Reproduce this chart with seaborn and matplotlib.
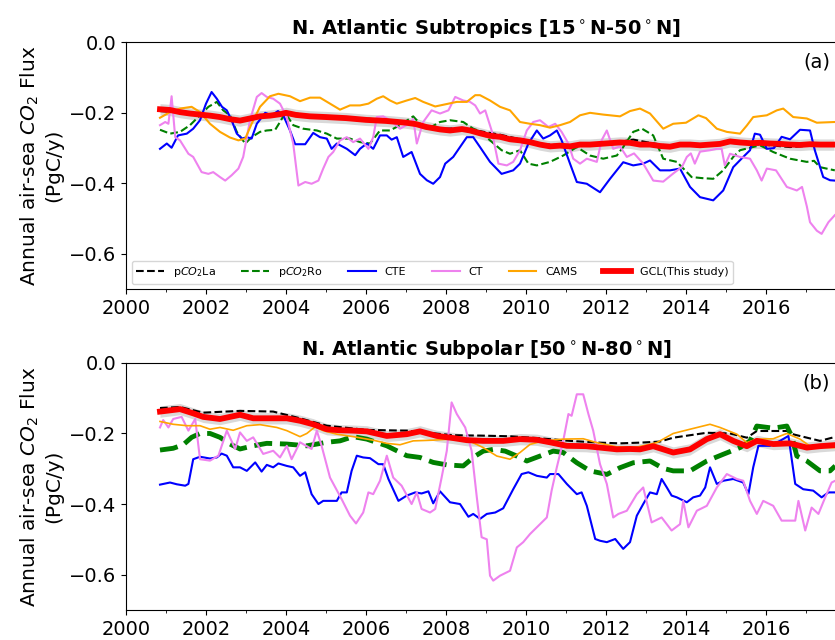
import matplotlib
matplotlib.use("Agg")
import matplotlib.pyplot as plt
from matplotlib.ticker import MultipleLocator
import seaborn as sns

# -------------------------
# Data: (decimal year, flux in PgC/y)
# -------------------------
# N. Atlantic Subtropics [15N-50N]
sub_la = [(2000.85, -0.195), (2001.5, -0.200), (2002.0, -0.206), (2002.85, -0.220), (2003.5, -0.208),
          (2004.0, -0.198), (2004.6, -0.208), (2005.5, -0.213), (2006.5, -0.220), (2007.0, -0.225),
          (2007.85, -0.245), (2008.4, -0.244), (2008.85, -0.252), (2009.35, -0.262), (2009.85, -0.275),
          (2010.35, -0.288), (2010.85, -0.292), (2011.35, -0.292), (2011.85, -0.288), (2012.35, -0.282),
          (2012.68, -0.276), (2013.1, -0.285), (2013.6, -0.294), (2014.1, -0.292), (2014.6, -0.290),
          (2015.1, -0.285), (2015.6, -0.288), (2016.1, -0.292), (2016.6, -0.297), (2017.1, -0.293),
          (2017.7, -0.288)]

sub_ro = [(2000.85, -0.248), (2001.1, -0.259), (2001.35, -0.254), (2001.6, -0.235), (2001.85, -0.207),
          (2002.06, -0.183), (2002.27, -0.169), (2002.43, -0.193), (2002.6, -0.207), (2002.77, -0.254),
          (2002.98, -0.287), (2003.14, -0.269), (2003.35, -0.254), (2003.52, -0.250), (2003.73, -0.248),
          (2003.85, -0.226), (2003.98, -0.200), (2004.18, -0.235), (2004.43, -0.245), (2004.77, -0.250),
          (2005.02, -0.259), (2005.27, -0.273), (2005.6, -0.273), (2005.85, -0.283), (2006.1, -0.287),
          (2006.35, -0.250), (2006.6, -0.250), (2006.85, -0.235), (2007.18, -0.210), (2007.35, -0.231),
          (2007.6, -0.242), (2007.85, -0.226), (2008.1, -0.221), (2008.43, -0.226), (2008.68, -0.245),
          (2008.85, -0.252), (2009.1, -0.278), (2009.39, -0.306), (2009.6, -0.316), (2009.85, -0.306),
          (2010.06, -0.344), (2010.27, -0.349), (2010.6, -0.339), (2010.93, -0.321), (2011.27, -0.297),
          (2011.6, -0.321), (2011.93, -0.330), (2012.27, -0.321), (2012.43, -0.297), (2012.68, -0.254),
          (2012.9, -0.245), (2013.18, -0.264), (2013.43, -0.330), (2013.77, -0.339), (2014.14, -0.382),
          (2014.4, -0.385), (2014.68, -0.387), (2014.93, -0.363), (2015.18, -0.325), (2015.35, -0.306),
          (2015.6, -0.299), (2015.85, -0.292), (2016.18, -0.311), (2016.6, -0.330), (2017.02, -0.339),
          (2017.2, -0.336), (2017.35, -0.354), (2017.72, -0.363)]

sub_cte = [(2000.85, -0.302), (2001.02, -0.287), (2001.14, -0.299), (2001.3, -0.264), (2001.52, -0.259),
           (2001.68, -0.245), (2001.85, -0.221), (2002.0, -0.174), (2002.14, -0.141), (2002.27, -0.160),
           (2002.4, -0.183), (2002.52, -0.193), (2002.64, -0.221), (2002.77, -0.259), (2002.9, -0.273),
           (2003.02, -0.269), (2003.14, -0.273), (2003.27, -0.231), (2003.48, -0.200), (2003.64, -0.207),
           (2003.8, -0.195), (2003.93, -0.207), (2004.1, -0.250), (2004.23, -0.289), (2004.48, -0.289),
           (2004.68, -0.257), (2004.85, -0.269), (2005.02, -0.273), (2005.14, -0.302), (2005.27, -0.287),
           (2005.52, -0.302), (2005.73, -0.320), (2005.85, -0.302), (2006.02, -0.287), (2006.18, -0.302),
           (2006.35, -0.264), (2006.52, -0.264), (2006.64, -0.276), (2006.77, -0.269), (2006.93, -0.325),
           (2007.14, -0.311), (2007.35, -0.373), (2007.52, -0.391), (2007.68, -0.401), (2007.85, -0.382),
           (2007.98, -0.344), (2008.18, -0.325), (2008.35, -0.297), (2008.52, -0.269), (2008.68, -0.269),
           (2008.85, -0.297), (2009.1, -0.339), (2009.39, -0.373), (2009.68, -0.363), (2009.85, -0.344),
           (2010.06, -0.287), (2010.27, -0.250), (2010.43, -0.273), (2010.6, -0.264), (2010.77, -0.250),
           (2010.89, -0.278), (2011.1, -0.344), (2011.27, -0.396), (2011.52, -0.401), (2011.85, -0.425),
           (2012.1, -0.387), (2012.43, -0.340), (2012.68, -0.349), (2012.93, -0.344), (2013.1, -0.335),
           (2013.35, -0.363), (2013.6, -0.363), (2013.85, -0.358), (2014.1, -0.410), (2014.35, -0.439),
           (2014.68, -0.448), (2014.93, -0.420), (2015.18, -0.354), (2015.43, -0.325), (2015.6, -0.306),
           (2015.72, -0.259), (2015.85, -0.262), (2016.02, -0.302), (2016.2, -0.300), (2016.39, -0.268),
           (2016.6, -0.275), (2016.85, -0.248), (2017.1, -0.250), (2017.22, -0.306), (2017.43, -0.382),
           (2017.6, -0.391), (2017.72, -0.392)]

sub_ct = [(2000.85, -0.235), (2000.98, -0.226), (2001.06, -0.231), (2001.14, -0.153), (2001.23, -0.269),
          (2001.35, -0.278), (2001.56, -0.316), (2001.68, -0.325), (2001.89, -0.368), (2002.06, -0.373),
          (2002.18, -0.368), (2002.35, -0.382), (2002.48, -0.392), (2002.64, -0.377), (2002.81, -0.358),
          (2002.93, -0.325), (2003.1, -0.221), (2003.27, -0.155), (2003.39, -0.144), (2003.52, -0.155),
          (2003.68, -0.160), (2003.85, -0.174), (2004.02, -0.212), (2004.18, -0.287), (2004.31, -0.406),
          (2004.48, -0.396), (2004.64, -0.401), (2004.81, -0.392), (2004.93, -0.358), (2005.06, -0.325),
          (2005.18, -0.311), (2005.35, -0.278), (2005.52, -0.269), (2005.68, -0.283), (2005.85, -0.273),
          (2006.06, -0.302), (2006.18, -0.269), (2006.27, -0.212), (2006.43, -0.210), (2006.6, -0.221),
          (2006.85, -0.245), (2007.1, -0.229), (2007.18, -0.217), (2007.27, -0.287), (2007.43, -0.226),
          (2007.64, -0.193), (2007.85, -0.202), (2008.06, -0.193), (2008.23, -0.155), (2008.43, -0.165),
          (2008.6, -0.169), (2008.73, -0.179), (2008.85, -0.202), (2008.98, -0.193), (2009.14, -0.250),
          (2009.31, -0.344), (2009.52, -0.349), (2009.68, -0.339), (2009.85, -0.306), (2010.02, -0.250),
          (2010.18, -0.226), (2010.35, -0.221), (2010.56, -0.240), (2010.73, -0.231), (2010.89, -0.254),
          (2011.06, -0.287), (2011.18, -0.330), (2011.35, -0.344), (2011.52, -0.330), (2011.77, -0.339),
          (2011.89, -0.278), (2012.02, -0.250), (2012.18, -0.302), (2012.35, -0.295), (2012.52, -0.325),
          (2012.7, -0.315), (2012.93, -0.344), (2013.18, -0.392), (2013.43, -0.395), (2013.68, -0.372),
          (2013.9, -0.353), (2014.02, -0.325), (2014.12, -0.315), (2014.22, -0.344), (2014.35, -0.310),
          (2014.6, -0.306), (2014.77, -0.302), (2014.89, -0.302), (2014.97, -0.349), (2015.1, -0.316),
          (2015.35, -0.325), (2015.6, -0.330), (2015.77, -0.363), (2015.89, -0.392), (2016.02, -0.358),
          (2016.25, -0.363), (2016.52, -0.410), (2016.77, -0.420), (2016.9, -0.410), (2017.02, -0.465),
          (2017.1, -0.510), (2017.27, -0.534), (2017.39, -0.543), (2017.56, -0.510), (2017.72, -0.490)]

sub_cams = [(2000.85, -0.214), (2001.1, -0.198), (2001.35, -0.188), (2001.64, -0.183), (2001.85, -0.198),
            (2002.1, -0.231), (2002.35, -0.254), (2002.6, -0.270), (2002.81, -0.278), (2002.98, -0.273),
            (2003.14, -0.231), (2003.35, -0.183), (2003.6, -0.153), (2003.81, -0.146), (2004.1, -0.153),
            (2004.35, -0.167), (2004.6, -0.157), (2004.85, -0.157), (2005.1, -0.174), (2005.35, -0.191),
            (2005.6, -0.179), (2005.85, -0.179), (2006.06, -0.174), (2006.27, -0.160), (2006.43, -0.153),
            (2006.6, -0.165), (2006.77, -0.174), (2007.02, -0.165), (2007.23, -0.158), (2007.43, -0.169),
            (2007.73, -0.182), (2007.98, -0.176), (2008.27, -0.169), (2008.52, -0.169), (2008.73, -0.150),
            (2008.85, -0.150), (2009.1, -0.165), (2009.35, -0.183), (2009.6, -0.193), (2009.85, -0.226),
            (2010.1, -0.231), (2010.35, -0.235), (2010.6, -0.242), (2010.85, -0.235), (2011.1, -0.226),
            (2011.35, -0.207), (2011.6, -0.200), (2011.93, -0.205), (2012.35, -0.210), (2012.6, -0.195),
            (2012.85, -0.188), (2013.1, -0.202), (2013.43, -0.245), (2013.68, -0.231), (2014.0, -0.228),
            (2014.31, -0.207), (2014.5, -0.215), (2014.77, -0.245), (2015.02, -0.254), (2015.35, -0.259),
            (2015.52, -0.236), (2015.68, -0.212), (2016.02, -0.207), (2016.27, -0.193), (2016.43, -0.188),
            (2016.68, -0.212), (2017.02, -0.216), (2017.27, -0.228), (2017.72, -0.226)]

sub_gcl = [(2000.85, -0.190), (2001.1, -0.192), (2001.35, -0.198), (2001.6, -0.202), (2001.85, -0.205),
           (2002.1, -0.208), (2002.35, -0.212), (2002.6, -0.218), (2002.85, -0.222), (2003.1, -0.216),
           (2003.35, -0.210), (2003.6, -0.208), (2003.85, -0.204), (2004.0, -0.200), (2004.25, -0.206),
           (2004.6, -0.210), (2005.0, -0.212), (2005.5, -0.215), (2006.0, -0.220), (2006.5, -0.223),
           (2007.0, -0.228), (2007.25, -0.232), (2007.5, -0.240), (2007.85, -0.247), (2008.1, -0.250),
           (2008.4, -0.246), (2008.6, -0.250), (2008.85, -0.258), (2009.1, -0.265), (2009.35, -0.268),
           (2009.6, -0.275), (2009.85, -0.278), (2010.1, -0.283), (2010.35, -0.290), (2010.6, -0.295),
           (2010.85, -0.293), (2011.1, -0.295), (2011.35, -0.290), (2011.6, -0.290), (2011.85, -0.288),
           (2012.1, -0.286), (2012.35, -0.284), (2012.6, -0.285), (2012.85, -0.290), (2013.1, -0.290),
           (2013.35, -0.294), (2013.6, -0.296), (2013.85, -0.290), (2014.1, -0.290), (2014.35, -0.292),
           (2014.6, -0.290), (2014.85, -0.288), (2015.1, -0.281), (2015.35, -0.284), (2015.6, -0.286),
           (2015.85, -0.285), (2016.1, -0.287), (2016.35, -0.288), (2016.6, -0.290), (2016.85, -0.291),
           (2017.1, -0.289), (2017.35, -0.290), (2017.7, -0.290)]

# N. Atlantic Subpolar [50N-80N]
pol_la = [(2000.85, -0.128), (2001.35, -0.125), (2001.93, -0.141), (2002.85, -0.136), (2003.68, -0.138),
          (2004.35, -0.157), (2005.02, -0.178), (2006.02, -0.190), (2007.02, -0.192), (2008.18, -0.205),
          (2008.85, -0.206), (2009.6, -0.208), (2010.27, -0.213), (2011.1, -0.221), (2011.85, -0.226),
          (2012.35, -0.228), (2012.85, -0.226), (2013.35, -0.223), (2013.68, -0.212), (2014.52, -0.198),
          (2015.1, -0.200), (2015.52, -0.212), (2015.77, -0.193), (2016.52, -0.193), (2016.7, -0.203),
          (2017.35, -0.221), (2017.72, -0.210)]

pol_ro = [(2000.85, -0.247), (2001.18, -0.242), (2001.43, -0.232), (2001.64, -0.211), (2001.85, -0.200),
          (2002.1, -0.200), (2002.35, -0.211), (2002.6, -0.230), (2002.85, -0.244), (2003.18, -0.235),
          (2003.52, -0.228), (2004.02, -0.230), (2004.52, -0.235), (2005.02, -0.225), (2005.35, -0.221),
          (2005.68, -0.209), (2006.02, -0.216), (2006.52, -0.235), (2007.02, -0.263), (2007.35, -0.268),
          (2007.68, -0.282), (2008.02, -0.289), (2008.43, -0.292), (2008.73, -0.264), (2008.93, -0.250),
          (2009.18, -0.245), (2009.48, -0.250), (2009.77, -0.264), (2010.02, -0.278), (2010.35, -0.264),
          (2010.68, -0.250), (2010.93, -0.254), (2011.27, -0.283), (2011.6, -0.306), (2012.02, -0.316),
          (2012.35, -0.297), (2012.68, -0.283), (2013.1, -0.278), (2013.43, -0.299), (2013.68, -0.306),
          (2014.1, -0.306), (2014.52, -0.278), (2014.93, -0.259), (2015.35, -0.240), (2015.6, -0.221),
          (2015.77, -0.179), (2016.18, -0.185), (2016.52, -0.179), (2016.64, -0.207), (2016.77, -0.264),
          (2017.02, -0.278), (2017.35, -0.306), (2017.6, -0.306), (2017.73, -0.292)]

pol_cte = [(2000.85, -0.345), (2001.1, -0.339), (2001.27, -0.344), (2001.48, -0.348), (2001.56, -0.343),
           (2001.68, -0.273), (2001.85, -0.266), (2002.1, -0.271), (2002.27, -0.268), (2002.39, -0.257),
           (2002.52, -0.263), (2002.68, -0.296), (2002.85, -0.296), (2003.02, -0.306), (2003.23, -0.282),
           (2003.39, -0.308), (2003.52, -0.289), (2003.68, -0.296), (2003.81, -0.285), (2004.02, -0.292),
           (2004.18, -0.296), (2004.35, -0.320), (2004.48, -0.310), (2004.64, -0.372), (2004.81, -0.400),
           (2004.93, -0.391), (2005.27, -0.391), (2005.39, -0.367), (2005.52, -0.367), (2005.64, -0.306),
           (2005.77, -0.263), (2005.93, -0.268), (2006.1, -0.270), (2006.31, -0.287), (2006.43, -0.287),
           (2006.56, -0.329), (2006.81, -0.391), (2007.02, -0.376), (2007.23, -0.367), (2007.39, -0.370),
           (2007.56, -0.364), (2007.68, -0.398), (2007.85, -0.364), (2008.1, -0.395), (2008.35, -0.400),
           (2008.56, -0.436), (2008.68, -0.428), (2008.85, -0.442), (2009.02, -0.428), (2009.23, -0.424),
           (2009.43, -0.412), (2009.68, -0.358), (2009.89, -0.315), (2010.06, -0.310), (2010.27, -0.320),
           (2010.52, -0.325), (2010.6, -0.315), (2010.81, -0.315), (2011.02, -0.343), (2011.27, -0.372),
           (2011.39, -0.367), (2011.52, -0.405), (2011.73, -0.499), (2011.85, -0.504), (2012.02, -0.508),
           (2012.23, -0.499), (2012.43, -0.527), (2012.6, -0.508), (2012.77, -0.433), (2012.93, -0.400),
           (2013.1, -0.367), (2013.27, -0.372), (2013.39, -0.329), (2013.52, -0.353), (2013.64, -0.376),
           (2013.77, -0.381), (2014.02, -0.395), (2014.18, -0.381), (2014.35, -0.376), (2014.48, -0.353),
           (2014.6, -0.296), (2014.77, -0.343), (2014.93, -0.334), (2015.18, -0.329), (2015.43, -0.339),
           (2015.56, -0.372), (2015.68, -0.296), (2015.81, -0.235), (2016.1, -0.235), (2016.35, -0.221),
           (2016.56, -0.207), (2016.73, -0.343), (2016.93, -0.358), (2017.18, -0.362), (2017.39, -0.381),
           (2017.56, -0.367), (2017.73, -0.367)]

pol_ct = [(2000.85, -0.183), (2000.93, -0.162), (2001.06, -0.183), (2001.18, -0.159), (2001.39, -0.153),
          (2001.56, -0.192), (2001.73, -0.159), (2001.85, -0.273), (2002.1, -0.277), (2002.31, -0.263),
          (2002.52, -0.192), (2002.73, -0.244), (2002.85, -0.197), (2003.02, -0.221), (2003.18, -0.211),
          (2003.43, -0.258), (2003.68, -0.249), (2003.85, -0.268), (2004.02, -0.235), (2004.14, -0.273),
          (2004.35, -0.225), (2004.64, -0.244), (2004.77, -0.192), (2004.89, -0.235), (2005.1, -0.325),
          (2005.39, -0.386), (2005.6, -0.433), (2005.75, -0.455), (2005.93, -0.424), (2006.06, -0.367),
          (2006.18, -0.372), (2006.35, -0.334), (2006.52, -0.263), (2006.68, -0.325), (2006.89, -0.348),
          (2007.14, -0.400), (2007.27, -0.367), (2007.39, -0.414), (2007.6, -0.424), (2007.73, -0.414),
          (2007.89, -0.325), (2008.02, -0.249), (2008.14, -0.112), (2008.27, -0.145), (2008.48, -0.183),
          (2008.64, -0.249), (2008.77, -0.381), (2008.89, -0.494), (2009.02, -0.500), (2009.1, -0.603),
          (2009.18, -0.617), (2009.35, -0.603), (2009.6, -0.589), (2009.77, -0.523), (2009.93, -0.508),
          (2010.1, -0.485), (2010.35, -0.457), (2010.52, -0.438), (2010.64, -0.362), (2010.77, -0.296),
          (2010.93, -0.221), (2011.06, -0.145), (2011.14, -0.150), (2011.27, -0.089), (2011.43, -0.089),
          (2011.56, -0.145), (2011.68, -0.192), (2011.85, -0.287), (2012.02, -0.343), (2012.18, -0.438),
          (2012.31, -0.428), (2012.52, -0.419), (2012.77, -0.372), (2012.93, -0.353), (2013.14, -0.452),
          (2013.39, -0.438), (2013.64, -0.475), (2013.85, -0.457), (2013.93, -0.391), (2014.06, -0.466),
          (2014.27, -0.419), (2014.52, -0.405), (2014.77, -0.353), (2015.02, -0.315), (2015.27, -0.329),
          (2015.43, -0.334), (2015.6, -0.391), (2015.77, -0.428), (2015.93, -0.391), (2016.18, -0.405),
          (2016.39, -0.447), (2016.73, -0.447), (2016.81, -0.391), (2016.98, -0.475), (2017.14, -0.410),
          (2017.31, -0.428), (2017.48, -0.381), (2017.64, -0.339), (2017.73, -0.334)]

pol_cams = [(2000.85, -0.166), (2001.18, -0.174), (2001.52, -0.178), (2001.85, -0.178), (2002.1, -0.188),
            (2002.35, -0.183), (2002.68, -0.191), (2003.02, -0.178), (2003.35, -0.175), (2003.77, -0.183),
            (2004.02, -0.192), (2004.35, -0.209), (2004.52, -0.200), (2004.73, -0.181), (2004.93, -0.192),
            (2005.27, -0.202), (2005.68, -0.209), (2006.18, -0.219), (2006.52, -0.228), (2006.85, -0.232),
            (2007.18, -0.221), (2007.68, -0.219), (2008.1, -0.216), (2008.6, -0.222), (2008.93, -0.240),
            (2009.27, -0.264), (2009.6, -0.273), (2009.85, -0.254), (2010.1, -0.231), (2010.43, -0.221),
            (2010.93, -0.216), (2011.43, -0.215), (2011.77, -0.226), (2012.27, -0.238), (2012.8, -0.238),
            (2013.27, -0.226), (2013.68, -0.200), (2014.1, -0.188), (2014.6, -0.174), (2014.85, -0.183),
            (2015.27, -0.202), (2015.52, -0.226), (2015.77, -0.216), (2016.18, -0.215), (2016.52, -0.200),
            (2016.85, -0.216), (2017.1, -0.236), (2017.52, -0.240), (2017.73, -0.240)]

pol_gcl = [(2000.85, -0.138), (2001.35, -0.131), (2001.68, -0.143), (2001.93, -0.153), (2002.35, -0.159),
           (2002.85, -0.147), (2003.18, -0.157), (2003.68, -0.157), (2004.02, -0.157), (2004.35, -0.164),
           (2004.68, -0.174), (2005.02, -0.188), (2005.35, -0.191), (2005.68, -0.192), (2006.02, -0.194),
           (2006.52, -0.207), (2007.02, -0.202), (2007.35, -0.194), (2007.77, -0.207), (2008.18, -0.213),
           (2008.52, -0.219), (2008.93, -0.221), (2009.43, -0.221), (2009.85, -0.216), (2010.27, -0.218),
           (2010.6, -0.225), (2011.02, -0.235), (2011.5, -0.236), (2011.85, -0.240), (2012.27, -0.245),
           (2012.6, -0.244), (2012.85, -0.245), (2013.18, -0.236), (2013.68, -0.254), (2014.1, -0.245),
           (2014.52, -0.216), (2014.85, -0.202), (2015.18, -0.221), (2015.52, -0.236), (2015.77, -0.221),
           (2016.18, -0.230), (2016.6, -0.228), (2017.02, -0.240), (2017.35, -0.236), (2017.72, -0.233)]

labels = ["p$CO_2$La", "p$CO_2$Ro", "CTE", "CT", "CAMS", "GCL(This study)"]
colors = ["black", "green", "blue", "violet", "orange", "red"]
year_ticks = list(range(2000, 2018, 2))
flux_ticks = [0.0, -0.2, -0.4, -0.6]


def draw(ax, y, label, color, **kw):
    xs = [p[0] for p in y]
    vs = [p[1] for p in y]
    sns.lineplot(x=xs, y=vs, ax=ax, color=color, label=label, **kw)


def panel(ax, series, title, tag, ro_width, cams_width):
    la, ro, cte, ct, cams, gcl = series
    # uncertainty band around GCL
    gx = [p[0] for p in gcl]
    gv = [p[1] for p in gcl]
    ax.fill_between(gx, [v - 0.016 for v in gv], [v + 0.016 for v in gv],
                    color="0.85", lw=0, zorder=1)
    draw(ax, la, labels[0], colors[0], linestyle="--", lw=1.5, zorder=2)
    draw(ax, ro, labels[1], colors[1], linestyle="--", lw=ro_width, zorder=2)
    draw(ax, cte, labels[2], colors[2], lw=1.5, zorder=2)
    draw(ax, ct, labels[3], colors[3], lw=1.5, zorder=2)
    draw(ax, cams, labels[4], colors[4], lw=cams_width, zorder=2)
    draw(ax, gcl, labels[5], colors[5], lw=4.2, zorder=3)

    ax.set_xlim(2000, 2018)
    ax.set_ylim(-0.7, 0.0)
    ax.set_xticks(year_ticks)
    ax.xaxis.set_minor_locator(MultipleLocator(1))
    ax.set_yticks(flux_ticks)
    ax.tick_params(labelsize=14)
    ax.set_title(title, fontsize=14, fontweight="bold")
    ax.set_ylabel("Annual air-sea $CO_2$ Flux\n(PgC/y)", fontsize=14.5)
    ax.text(0.978, 0.92, tag, transform=ax.transAxes, ha="right", va="center", fontsize=14)


fig = plt.figure(figsize=(8.35, 6.4), dpi=100)
ax1 = fig.add_axes([0.1509, 0.548, 0.8623, 0.386])
ax2 = fig.add_axes([0.1509, 0.047, 0.8623, 0.386])

panel(ax1, [sub_la, sub_ro, sub_cte, sub_ct, sub_cams, sub_gcl],
      r"N. Atlantic Subtropics [15$^\circ$N-50$^\circ$N]", "(a)", 1.5, 1.5)
panel(ax2, [pol_la, pol_ro, pol_cte, pol_ct, pol_cams, pol_gcl],
      r"N. Atlantic Subpolar [50$^\circ$N-80$^\circ$N]", "(b)", 3.5, 1.2)

ax1.legend(loc="lower left", ncol=6, fontsize=8, handlelength=2.5, columnspacing=2.3)
ax2.get_legend().remove()

fig.savefig("out.png", dpi=100)
